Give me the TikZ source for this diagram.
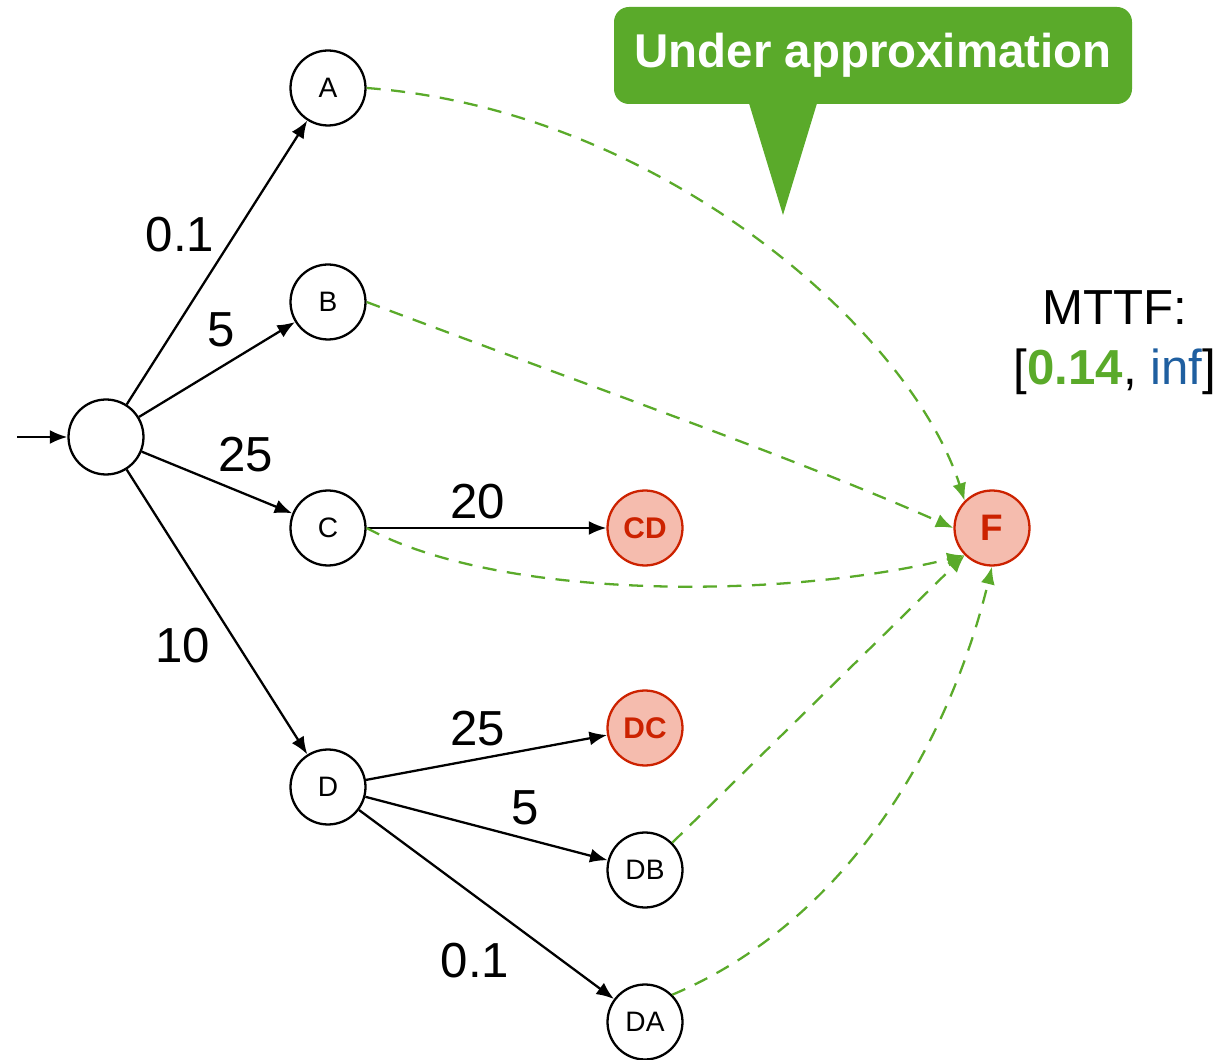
\documentclass[tikz,border=0pt]{standalone}
\usepackage{fontspec}
\setmainfont{Liberation Sans}
\usetikzlibrary{arrows.meta}
\definecolor{grn}{HTML}{5AAA2A}
\definecolor{rdline}{HTML}{CC2200}
\definecolor{rdfill}{HTML}{F5BCAE}
\definecolor{blu}{HTML}{1F5FA0}
\tikzset{
  state/.style={circle, draw=black, line width=1.3pt, fill=white, minimum size=1.5cm, inner sep=0pt, font=\fontsize{16}{18}\selectfont},
  failed/.style={circle, draw=rdline, line width=1.3pt, fill=rdfill, minimum size=1.5cm, inner sep=0pt, text=rdline, font=\fontsize{17}{19}\selectfont\bfseries},
  trans/.style={-{Latex[length=10pt,width=8pt]}, line width=1.3pt, black},
  reach/.style={-{Latex[length=10pt,width=8pt]}, line width=1.3pt, grn, dash pattern=on 8pt off 6pt},
  rate/.style={font=\fontsize{28}{30}\selectfont},
}
\begin{document}
\begin{tikzpicture}[x=0.02cm,y=-0.02cm]
\useasboundingbox (0,0) rectangle (1231,1060);
% states
\node[state] (s0) at (106,437) {};
\node[state] (A) at (328,88) {A};
\node[state] (B) at (328,302) {B};
\node[state] (C) at (328,528) {C};
\node[state] (D) at (328,787) {D};
\node[failed] (CD) at (645,528) {CD};
\node[failed] (DC) at (645,728) {DC};
\node[state] (DB) at (645,870) {DB};
\node[state] (DA) at (645,1022) {DA};
\node[failed, font=\fontsize{21}{23}\selectfont\bfseries] (F) at (992,528) {F};
\coordinate (init) at (17,437);
% transitions
\draw[trans] (init) -- (s0);
\draw[trans] (s0) -- (A);
\draw[trans] (s0) -- (B);
\draw[trans] (s0) -- (C);
\draw[trans] (s0) -- (D);
\draw[trans] (C) -- (CD);
\draw[trans] (D) -- (DC);
\draw[trans] (D) -- (DB);
\draw[trans] (D) -- (DA);
% rates
\node[rate] (r1) at (180,235) {0.1};
\node[rate] (r2) at (221,330) {5};
\node[rate] (r3) at (246,455) {25};
\node[rate] (r4) at (183,646) {10};
\node[rate] (r5) at (478,502) {20};
\node[rate] (r6) at (478,729) {25};
\node[rate] (r7) at (525,808) {5};
\node[rate] (r8) at (475,961) {0.1};
% abstract reachability to F
\draw[reach] (A.east) .. controls (660,110) and (910,330) .. (F.north west);
\draw[reach] (B.east) .. controls (600,390) and (800,460) .. (F.west);
\draw[reach] (C.east) .. controls (500,600) and (780,600) .. (F.south west);
\draw[reach] (DB.north east) -- (F.south west);
\draw[reach] (DA.north east) .. controls (850,920) and (950,740) .. (F.south);
% callout
\fill[grn] (748,100) -- (818,100) -- (783,215) -- cycle;
\node[fill=grn, rounded corners=0.3cm, minimum width=518*0.02cm, minimum height=97*0.02cm, text=white, font=\fontsize{27}{30}\selectfont\bfseries] (callout) at (873,55.5) {Under approximation};
% result
\node[align=center, font=\fontsize{28}{34}\selectfont] (mttf) at (1115,343) {MTTF:\\{}[\textcolor{grn}{\bfseries 0.14}, \textcolor{blu}{inf}]};
\end{tikzpicture}
\end{document}
